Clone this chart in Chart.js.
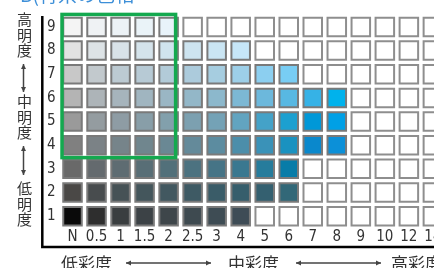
<!DOCTYPE html>
<html><head><meta charset="utf-8">
<script src="https://cdn.jsdelivr.net/npm/chart.js@4"></script>
<style>
html,body{margin:0;padding:0;background:#fff;overflow:hidden;width:434px;height:268px;position:relative;}
#wrap{position:absolute;left:0;top:0;width:460px;height:268px;}
.t{position:absolute;font-family:"Noto Sans CJK JP","Noto Sans";color:#333;white-space:nowrap;line-height:1;}
.v{writing-mode:vertical-rl;font-size:15px;letter-spacing:0.6px;}
.h{font-size:17px;}
</style></head><body>
<div id="wrap"><canvas id="c" width="460" height="268" style="width:460px;height:268px"></canvas></div>
<div class="t" style="left:20px;top:-16px;font-size:19px;color:#3d8fd8">B(青系の色相</div>
<div class="t v" style="left:17px;top:12px">高明度</div>
<div class="t v" style="left:17px;top:94px">中明度</div>
<div class="t v" style="left:17px;top:181px">低明度</div>
<div class="t h" style="left:61px;top:254px">低彩度</div>
<div class="t h" style="left:228px;top:254px">中彩度</div>
<div class="t h" style="left:391px;top:254px">高彩度</div>
<script>
// chroma steps (x) and value levels (y)
const chromaLabels = ['N','0.5','1','1.5','2','2.5','3','4','5','6','7','8','9','10','12','14'];
const valueLevels = [9,8,7,6,5,4,3,2,1];
// chip colours per value level, from N upward; further columns are empty chips
const chips9 = ['#f4f4f4','#eff2f4','#ecf2f6','#eaf3f8','#e8f3fa'];
const chips8 = ['#e2e2e2','#dde3e6','#d8e2e8','#d4e3eb','#d0e4ee','#cde4f0','#cae5f3','#c6e6f8'];
const chips7 = ['#c8c8c8','#c2c9cd','#bccad2','#b7cad5','#b2cbd8','#accbdc','#a6cde0','#9dcfe8','#8ccff0','#78cdf4'];
const chips6 = ['#b4b4b4','#adb4b8','#a6b4bc','#a0b5c0','#9ab6c4','#93b7c8','#8cb8cc','#7cb8d4','#6cb8dc','#58b8e2','#36b2e6','#00b2ec'];
const chips5 = ['#9a9a9a','#949ca0','#8e9ca4','#889ea8','#82a0ac','#7ca0b0','#74a2b6','#62a4c0','#44a2c8','#1ca0d0','#0098d8','#00a0e6'];
const chips4 = ['#808080','#7b8286','#76848a','#70868e','#6a8894','#648a9a','#5c8ca0','#4c8eaa','#3a92b8','#1a92c0','#0a88cc','#0c90d8'];
const chips3 = ['#696969','#646a6e','#5e6c72','#586e76','#52707a','#4c7280','#467486','#3a7890','#267c9c','#087ca8'];
const chips2 = ['#4a4846','#484c4e','#465256','#44565c','#425860','#3e5a64','#3a5c68','#365e6c','#346070','#326878'];
const chips1 = ['#0a0a0a','#2e2e2e','#3a3e40','#3c4246','#3e464a','#3e4a50','#3e4c54','#3e4c56'];
const chipsByValue = {9:chips9,8:chips8,7:chips7,6:chips6,5:chips5,4:chips4,3:chips3,2:chips2,1:chips1};
// highlighted block: chroma N..2, value 4..9
const highlightChroma = ['N','2'];
const highlightValue = [4,9];

const pts = [], fills = [], borders = [];
valueLevels.forEach(v => {
  chromaLabels.forEach((c, i) => {
    pts.push({x: c, y: v});
    const col = chipsByValue[v][i];
    fills.push(col || '#ffffff');
    borders.push(col ? '#7a7a7a' : '#8e8e8e');
  });
});

const numFont = {family: '"Liberation Sans Narrow","DejaVu Sans Condensed","Noto Sans"', size: 15};

function arrow(ctx, x1, y1, x2, y2) {
  const a = Math.atan2(y2 - y1, x2 - x1);
  ctx.beginPath(); ctx.moveTo(x1, y1); ctx.lineTo(x2, y2); ctx.stroke();
  [[x1, y1, a + Math.PI], [x2, y2, a]].forEach(([x, y, t]) => {
    ctx.beginPath();
    ctx.moveTo(x, y);
    ctx.lineTo(x - 5 * Math.cos(t) + 2.5 * Math.sin(t), y - 5 * Math.sin(t) - 2.5 * Math.cos(t));
    ctx.lineTo(x - 5 * Math.cos(t) - 2.5 * Math.sin(t), y - 5 * Math.sin(t) + 2.5 * Math.cos(t));
    ctx.closePath(); ctx.fill();
  });
}

const decor = {
  id: 'decor',
  afterDraw(chart) {
    const ctx = chart.ctx, xs = chart.scales.x, ys = chart.scales.y, ca = chart.chartArea;
    ctx.save();
    // frame
    ctx.strokeStyle = '#000'; ctx.lineWidth = 2.5;
    ctx.beginPath();
    ctx.moveTo(ys.left + 0.3, ca.top + 1);
    ctx.lineTo(ys.left + 0.3, xs.bottom + 0.2);
    ctx.lineTo(chart.width, xs.bottom + 0.2);
    ctx.stroke();
    // highlight box
    const l = xs.getPixelForValue(chromaLabels.indexOf(highlightChroma[0])) - 10.5;
    const r = xs.getPixelForValue(chromaLabels.indexOf(highlightChroma[1])) + 7;
    const t = ys.getPixelForValue(highlightValue[1]) - 12.5;
    const b = ys.getPixelForValue(highlightValue[0]) + 12.4;
    ctx.strokeStyle = '#14a94f'; ctx.lineWidth = 3.5;
    ctx.strokeRect(l, t, r - l, b - t);
    // arrows
    ctx.strokeStyle = '#444'; ctx.fillStyle = '#444'; ctx.lineWidth = 1.5;
    arrow(ctx, 23.5, 64, 23.5, 92);
    arrow(ctx, 23.5, 146, 23.5, 175);
    arrow(ctx, 126, 263, 211, 263);
    arrow(ctx, 296, 263, 381, 263);
    ctx.restore();
  }
};

new Chart(document.getElementById('c'), {
  type: 'scatter',
  data: {datasets: [{
    data: pts,
    pointStyle: 'rect',
    pointRadius: 13.1,
    pointBorderWidth: 2,
    pointBackgroundColor: fills,
    pointBorderColor: borders
  }]},
  options: {
    responsive: false,
    animation: false,
    events: [],
    layout: {padding: {left: 42, right: 14.4, top: 10.9, bottom: 21.1}},
    plugins: {legend: {display: false}, tooltip: {enabled: false}},
    scales: {
      x: {
        type: 'category', labels: chromaLabels, offset: true,
        grid: {display: false, drawTicks: false}, border: {display: false},
        ticks: {padding: 0, font: numFont, color: '#333', autoSkip: false, maxRotation: 0},
        afterFit(s) { s.height = 18.9; }
      },
      y: {
        type: 'linear', min: 0.5, max: 9.5,
        afterBuildTicks(s) { s.ticks = valueLevels.map(v => ({value: v})); },
        grid: {display: false, drawTicks: false}, border: {display: false},
        ticks: {padding: 5, font: numFont, color: '#333'},
        afterFit(s) { s.width = 18.5; }
      }
    }
  },
  plugins: [decor]
});
</script>
</body></html>
